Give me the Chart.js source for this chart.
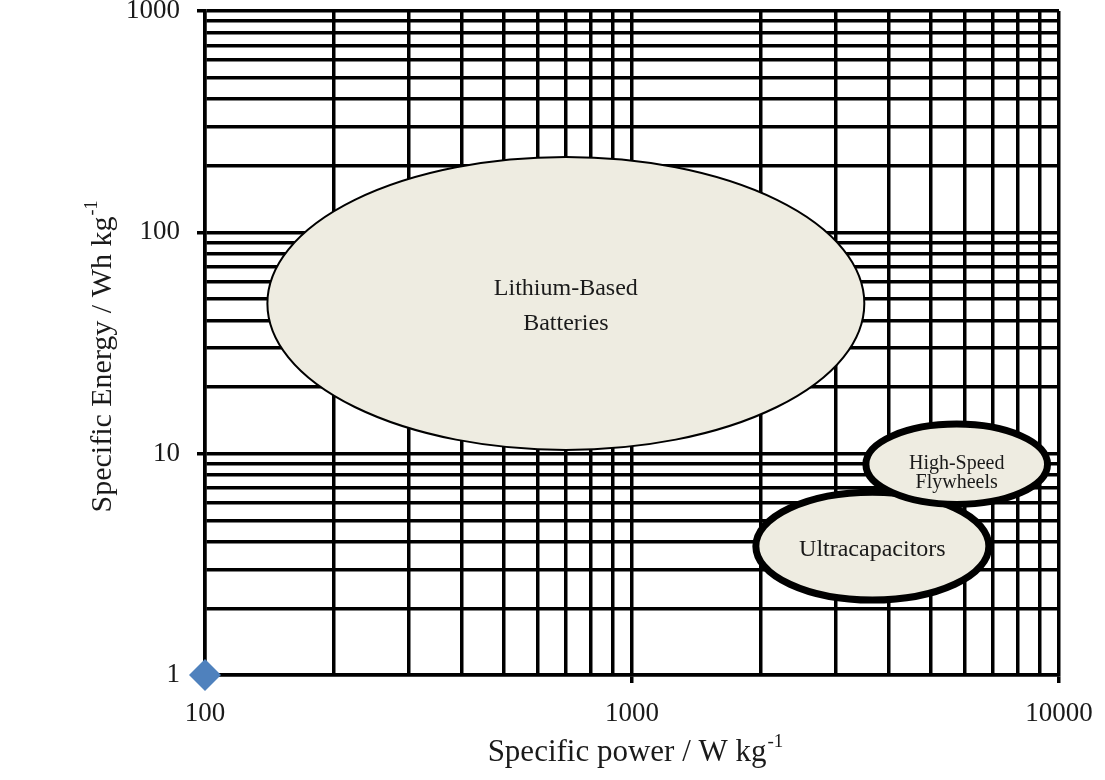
<!DOCTYPE html>
<html>
<head>
<meta charset="utf-8">
<script src="https://cdn.jsdelivr.net/npm/chart.js@4.4.1/dist/chart.umd.min.js"></script>
<style>
  html, body { margin: 0; padding: 0; background: #fff; }
  #wrap { width: 1105px; height: 780px; }
</style>
</head>
<body>
<div id="wrap"><canvas id="chart" width="1105" height="780"></canvas></div>
<script>
// decades labelled on each log axis
const powerDecades = [100, 1000, 10000];
const energyDecades = [1, 10, 100, 1000];
const gridSteps = [1, 2, 3, 4, 5, 6, 7, 8, 9];

// technology regions: outline bounds (W/kg, Wh/kg)
const regionNames = [['Lithium-Based', 'Batteries'], ['Ultracapacitors'], ['High-Speed', 'Flywheels']];
const powerMin = [140, 1950, 3530];
const powerMax = [3500, 6850, 9400];
const energyMin = [10.4, 2.18, 5.9];
const energyMax = [219, 6.7, 13.6];

// the single plotted marker
const pointPower = [100];
const pointEnergy = [1];

const SERIF = "'Liberation Serif', 'Times New Roman', serif";
const TEXT = '#1a1a1a';
const FILL = '#eeece1';
const regionStroke = [2, 7, 7];
const regionFont = [24, 24, 20];
const regionLine = [35, 0, 19];
const regionShift = [3, 4, 9];

function logTicks(decades) {
  const out = [];
  decades.forEach((d, i) => {
    if (i === decades.length - 1) out.push(d);
    else gridSteps.forEach(s => out.push(d * s));
  });
  return out;
}
const powerTicks = logTicks(powerDecades);
const energyTicks = logTicks(energyDecades);

// ellipses for the technology regions, placed through the scales
const regionPlugin = {
  id: 'regions',
  beforeDatasetsDraw(chart) {
    const { ctx, scales: { x, y } } = chart;
    regionNames.forEach((lines, i) => {
      const l = x.getPixelForValue(powerMin[i]), r = x.getPixelForValue(powerMax[i]);
      const t = y.getPixelForValue(energyMax[i]), b = y.getPixelForValue(energyMin[i]);
      const cx = (l + r) / 2, cy = (t + b) / 2;
      ctx.save();
      ctx.beginPath();
      ctx.ellipse(cx, cy, (r - l) / 2, (b - t) / 2, 0, 0, Math.PI * 2);
      ctx.fillStyle = FILL;
      ctx.fill();
      ctx.lineWidth = regionStroke[i];
      ctx.strokeStyle = '#000';
      ctx.stroke();
      ctx.fillStyle = TEXT;
      ctx.font = regionFont[i] + 'px ' + SERIF;
      ctx.textAlign = 'center';
      ctx.textBaseline = 'middle';
      const start = cy - (lines.length - 1) * regionLine[i] / 2 + regionShift[i];
      lines.forEach((txt, k) => ctx.fillText(txt, cx, start + k * regionLine[i]));
      ctx.restore();
    });
  }
};

// axis titles with a raised "-1"
function drawSupTitle(ctx, main, sup, cx, cy, size) {
  ctx.font = size + 'px ' + SERIF;
  const w1 = ctx.measureText(main).width;
  ctx.font = Math.round(size * 0.6) + 'px ' + SERIF;
  const w2 = ctx.measureText(sup).width;
  const x0 = cx - (w1 + w2) / 2;
  ctx.textAlign = 'left';
  ctx.textBaseline = 'middle';
  ctx.font = size + 'px ' + SERIF;
  ctx.fillText(main, x0, cy);
  ctx.font = Math.round(size * 0.6) + 'px ' + SERIF;
  ctx.fillText(sup, x0 + w1 + 1, cy - size * 0.36);
}

const titlePlugin = {
  id: 'axisTitles',
  afterDraw(chart) {
    const { ctx, chartArea: a } = chart;
    ctx.save();
    ctx.fillStyle = TEXT;
    drawSupTitle(ctx, 'Specific power / W kg', '-1', (a.left + a.right) / 2 + 3, 753, 31);
    ctx.translate(103, (a.top + a.bottom) / 2 + 14);
    ctx.rotate(-Math.PI / 2);
    drawSupTitle(ctx, 'Specific Energy / Wh kg', '-1', 0, 0, 30);
    ctx.restore();
  }
};

new Chart(document.getElementById('chart'), {
  type: 'scatter',
  data: {
    datasets: [{
      data: pointPower.map((p, i) => ({ x: p, y: pointEnergy[i] })),
      pointStyle: 'rectRot',
      pointRadius: 16,
      backgroundColor: '#4f81bd',
      borderColor: '#4f81bd',
      borderWidth: 0,
      clip: false
    }]
  },
  options: {
    responsive: false,
    animation: false,
    layout: { autoPadding: false, padding: { top: 11, right: 46, left: 0, bottom: 0 } },
    plugins: { legend: { display: false }, tooltip: { enabled: false } },
    scales: {
      x: {
        type: 'logarithmic',
        min: 100, max: 10000,
        afterBuildTicks: s => { s.ticks = powerTicks.map(v => ({ value: v })); },
        afterFit: s => { s.height = 105; s.paddingLeft = 0; s.paddingRight = 0; },
        border: { display: true, color: '#000', width: 3.5 },
        grid: {
          color: '#000', lineWidth: 3.5, tickLength: 8,
          tickColor: c => powerDecades.includes(c.tick && c.tick.value) ? '#000' : 'rgba(0,0,0,0)'
        },
        ticks: {
          autoSkip: false, maxRotation: 0, padding: 15,
          color: TEXT, font: { family: SERIF, size: 27 },
          callback: v => powerDecades.includes(v) ? String(v) : ''
        }
      },
      y: {
        type: 'logarithmic',
        min: 1, max: 1000,
        afterBuildTicks: s => { s.ticks = energyTicks.map(v => ({ value: v })); },
        afterFit: s => { s.width = 205; s.paddingTop = 0; s.paddingBottom = 0; },
        border: { display: true, color: '#000', width: 3.5 },
        grid: {
          color: '#000', lineWidth: 3.5, tickLength: 8,
          tickColor: c => energyDecades.includes(c.tick && c.tick.value) ? '#000' : 'rgba(0,0,0,0)'
        },
        ticks: {
          autoSkip: false, padding: 17,
          color: TEXT, font: { family: SERIF, size: 27 },
          callback: v => energyDecades.includes(v) ? String(v) : ''
        }
      }
    }
  },
  plugins: [regionPlugin, titlePlugin]
});
</script>
</body>
</html>
